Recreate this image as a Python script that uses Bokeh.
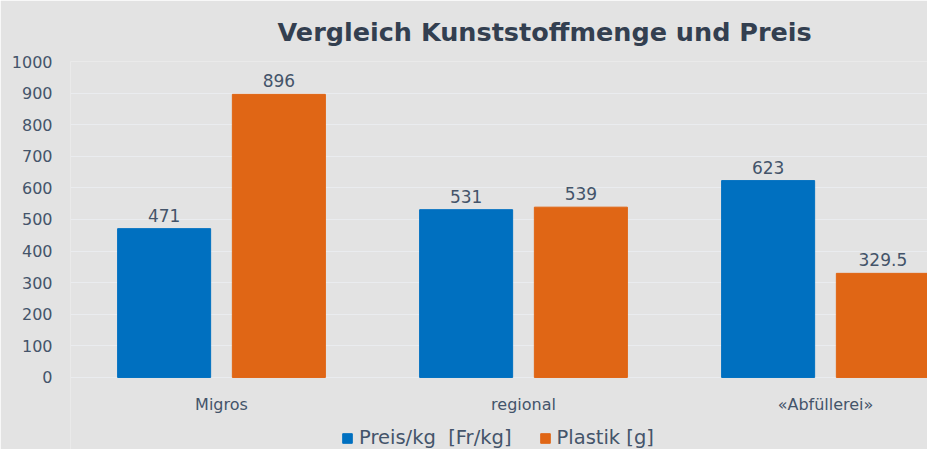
from bokeh.plotting import figure
from bokeh.models import (ColumnDataSource, Range1d, FixedTicker, Legend, LegendItem)
from bokeh.core.properties import value
from bokeh.embed import file_html
from bokeh.resources import INLINE

categories = ["Migros", "regional", "«Abfüllerei»"]
preis = [471, 531, 623]
plastik = [896, 539, 329.5]
series_names = ["Preis/kg\u00a0 [Fr/kg]", "Plastik [g]"]
y_ticks = [0, 100, 200, 300, 400, 500, 600, 700, 800, 900, 1000]

BG = "#e3e3e3"
TXT = "#44546a"
BLUE = "#0070c0"
ORANGE = "#e06615"
FONT = "DejaVu Sans"

pos = [i + 0.5 for i in range(len(categories))]
off = 0.19
bw = 0.308

def fmt(v):
    return ("%g" % v)

src_p = ColumnDataSource(dict(x=[p - off for p in pos], y=preis, lab=[fmt(v) for v in preis]))
src_k = ColumnDataSource(dict(x=[p + off for p in pos], y=plastik, lab=[fmt(v) for v in plastik]))

p = figure(width=927, height=449, output_backend="svg", toolbar_location=None,
           x_range=Range1d(0, 857 / 302), y_range=Range1d(-228, 1000),
           background_fill_color=BG, border_fill_color=BG,
           min_border_left=70, min_border_right=0, min_border_top=0, min_border_bottom=0)
p.outline_line_color = None

p.title.text = "Vergleich Kunststoffmenge und Preis"
p.title.align = "left"
p.title.offset = 207
p.title.text_font = FONT
p.title.text_font_size = "25.5px"
p.title.text_font_style = "bold"
p.title.text_color = "#333f50"
p.title.standoff = 29

r1 = p.vbar(x="x", top="y", width=bw, bottom=0, source=src_p, fill_color=BLUE, line_color=BLUE)
r2 = p.vbar(x="x", top="y", width=bw, bottom=0, source=src_k, fill_color=ORANGE, line_color=ORANGE)

for s in (src_p, src_k):
    p.text(x="x", y="y", text="lab", source=s, text_align="center", text_baseline="bottom",
           y_offset=-7, text_font=value(FONT), text_font_size="17px", text_color=TXT)

p.yaxis.ticker = FixedTicker(ticks=y_ticks)
p.yaxis.axis_line_color = None
p.yaxis.major_tick_line_color = None
p.yaxis.minor_tick_line_color = None
p.yaxis.major_label_standoff = 12
p.yaxis.major_label_text_font = FONT
p.yaxis.major_label_text_font_size = "16px"
p.yaxis.major_label_text_color = TXT

p.xaxis.fixed_location = 0
p.xaxis.ticker = FixedTicker(ticks=pos)
p.xaxis.major_label_overrides = {pp: c for pp, c in zip(pos, categories)}
p.xaxis.axis_line_color = None
p.xaxis.major_tick_line_color = None
p.xaxis.minor_tick_line_color = None
p.xaxis.major_label_standoff = 12
p.xaxis.major_label_text_font = FONT
p.xaxis.major_label_text_font_size = "16px"
p.xaxis.major_label_text_color = TXT

p.xgrid.grid_line_color = None
p.ygrid.grid_line_color = "#eaecef"
p.ygrid.grid_line_width = 1

legend = Legend(items=[LegendItem(label=series_names[0], renderers=[r1]),
                       LegendItem(label=series_names[1], renderers=[r2])],
                orientation="horizontal", location=(271, 0),
                border_line_color=None, background_fill_alpha=0,
                label_text_font=FONT, label_text_font_size="19.5px", label_text_color=TXT,
                glyph_width=12, glyph_height=12, spacing=27, padding=4, margin=0,
                label_standoff=6)
p.add_layout(legend, "center")

open("out.html", "w").write(file_html(p, INLINE))
